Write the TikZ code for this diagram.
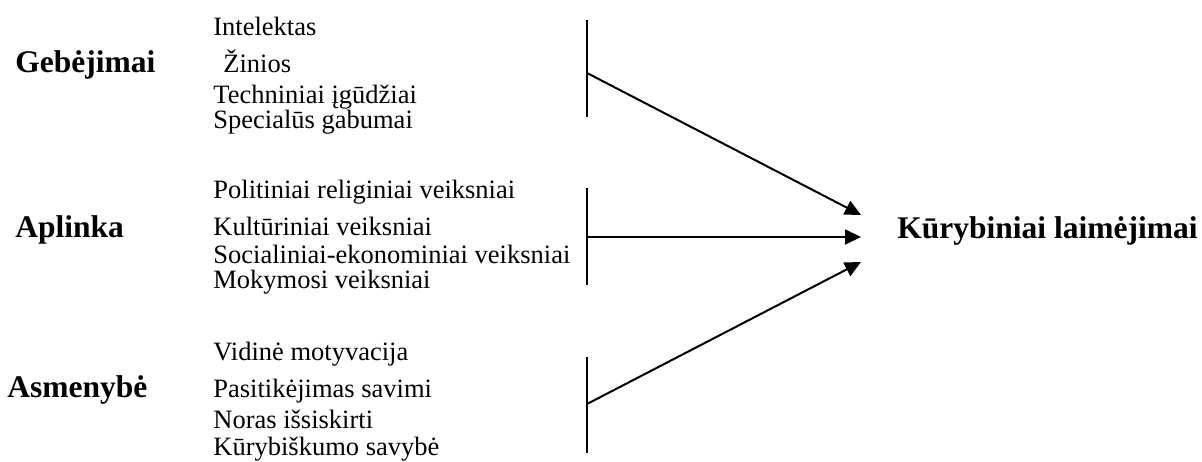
\documentclass[tikz,border=0pt]{standalone}
\usepackage{fontspec}
\setmainfont{Liberation Serif}
\usetikzlibrary{arrows.meta}

\begin{document}
\begin{tikzpicture}[
    x=0.5pt, y=-0.5pt,
    group/.style={inner sep=0pt, anchor=base west, font=\fontsize{15.75}{18}\selectfont\bfseries},
    item/.style={inner sep=0pt, anchor=base west, font=\fontsize{13.25}{16}\selectfont},
    result/.style={inner sep=0pt, anchor=base west, font=\fontsize{15.75}{18}\selectfont\bfseries},
    bar/.style={line width=1pt},
    arrow/.style={-{Triangle[length=8pt,width=7.5pt]}, line width=1pt}
]
    \useasboundingbox (0,0) rectangle (1202,461);

    % groups
    \node[group] (gebejimai) at (15,72) {Gebėjimai};
    \node[group] (aplinka) at (15,237) {Aplinka};
    \node[group] (asmenybe) at (7,397) {Asmenybė};

    % factors
    \node[item] (intelektas) at (213,35) {Intelektas};
    \node[item] (zinios) at (223,72) {Žinios};
    \node[item] (technika) at (213,103) {Techniniai įgūdžiai};
    \node[item] (gabumai) at (213,128) {Specialūs gabumai};

    \node[item] (politika) at (213,198) {Politiniai religiniai veiksniai};
    \node[item] (kultura) at (213,235) {Kultūriniai veiksniai};
    \node[item] (socekon) at (213,263) {Socialiniai-ekonominiai veiksniai};
    \node[item] (mokymas) at (213,288) {Mokymosi veiksniai};

    \node[item] (motyvacija) at (213,360) {Vidinė motyvacija};
    \node[item] (pasitikejimas) at (213,397) {Pasitikėjimas savimi};
    \node[item] (noras) at (213,428) {Noras išsiskirti};
    \node[item] (savybe) at (213,455) {Kūrybiškumo savybė};

    \node[result] (rezultatas) at (897,238) {Kūrybiniai laimėjimai};

    % brackets
    \coordinate (gebTop) at (587,20);
    \coordinate (gebMid) at (587,73);
    \coordinate (gebBot) at (587,117);
    \coordinate (aplTop) at (587,188);
    \coordinate (aplMid) at (587,237);
    \coordinate (aplBot) at (587,285);
    \coordinate (asmTop) at (587,357);
    \coordinate (asmMid) at (587,404);
    \coordinate (asmBot) at (587,453);

    \coordinate (tipA) at (861,215);
    \coordinate (tipB) at (861,237);
    \coordinate (tipC) at (861,262);

    \draw[bar] (gebTop) -- (gebBot);
    \draw[bar] (aplTop) -- (aplBot);
    \draw[bar] (asmTop) -- (asmBot);

    \draw[arrow] (gebMid) -- (tipA);
    \draw[arrow] (aplMid) -- (tipB);
    \draw[arrow] (asmMid) -- (tipC);
\end{tikzpicture}
\end{document}
